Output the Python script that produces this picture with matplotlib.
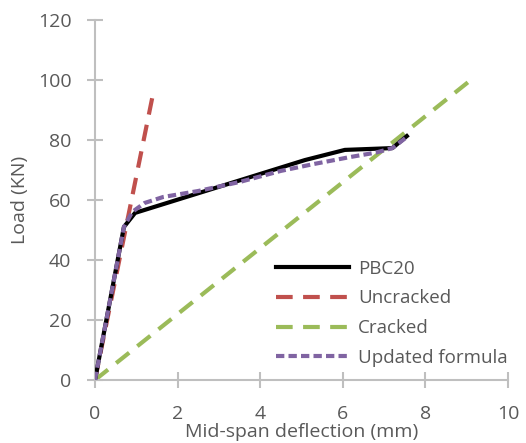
import matplotlib.pyplot as plt

# data
pbc_x = [0, 0.7, 0.97, 5.08, 6.05, 7.2, 7.55]
pbc_y = [0, 51, 55.7, 73.3, 76.7, 77.3, 81.3]

uncr_x = [0, 1.41]
uncr_y = [0, 95.7]

cr_x = [0, 9.1]
cr_y = [0, 100]

upd_x = [0, 0.7, 0.9, 1.2, 1.65, 2.5, 3.5, 4.5, 5.3, 6.17, 6.8, 7.2, 7.55]
upd_y = [0, 51, 56, 59, 61, 63, 66, 69.7, 72, 74.3, 75.8, 77.3, 81]

gray = '#595959'
plt.rcParams['font.family'] = ['Open Sans', 'DejaVu Sans']

fig = plt.figure(figsize=(5.26, 4.43), dpi=100)
ax = fig.add_axes([95/526, 1-380/443, 413/526, 360/443])

ax.plot(pbc_x, pbc_y, color='black', lw=3, label='PBC20', zorder=3)
ax.plot(uncr_x, uncr_y, color='#c0504d', lw=3, dashes=(4, 2.5), label='Uncracked', zorder=2)
ax.plot(cr_x, cr_y, color='#9bbb59', lw=3, dashes=(4, 2.5), label='Cracked', zorder=2)
ax.plot(upd_x, upd_y, color='#8064a2', lw=3, dashes=(2, 1), label='Updated formula', zorder=4)

ax.set_xlim(0, 10)
ax.set_ylim(0, 120)
ax.set_xticks(range(0, 11, 2))
ax.set_yticks(range(0, 121, 20))

for s in ['top', 'right']:
    ax.spines[s].set_visible(False)
for s in ['left', 'bottom']:
    ax.spines[s].set_color('#bfbfbf')
    ax.spines[s].set_linewidth(1.5)
ax.tick_params(direction='inout', length=12, width=1.5, color='#bfbfbf',
               labelsize=14, labelcolor=gray)
ax.tick_params(axis='x', pad=12)
ax.tick_params(axis='y', pad=11)

ax.set_xlabel('Mid-span deflection (mm)', fontsize=14, color=gray, labelpad=0)
ax.set_ylabel('Load (KN)', fontsize=14, color=gray, labelpad=6)

leg = ax.legend(loc='lower right', bbox_to_anchor=(1.04, -0.01), frameon=False,
                fontsize=13.5, handlelength=3.9, labelspacing=0.62, handletextpad=0.5)
for t in leg.get_texts():
    t.set_color(gray)

fig.savefig('out.png', dpi=100)
